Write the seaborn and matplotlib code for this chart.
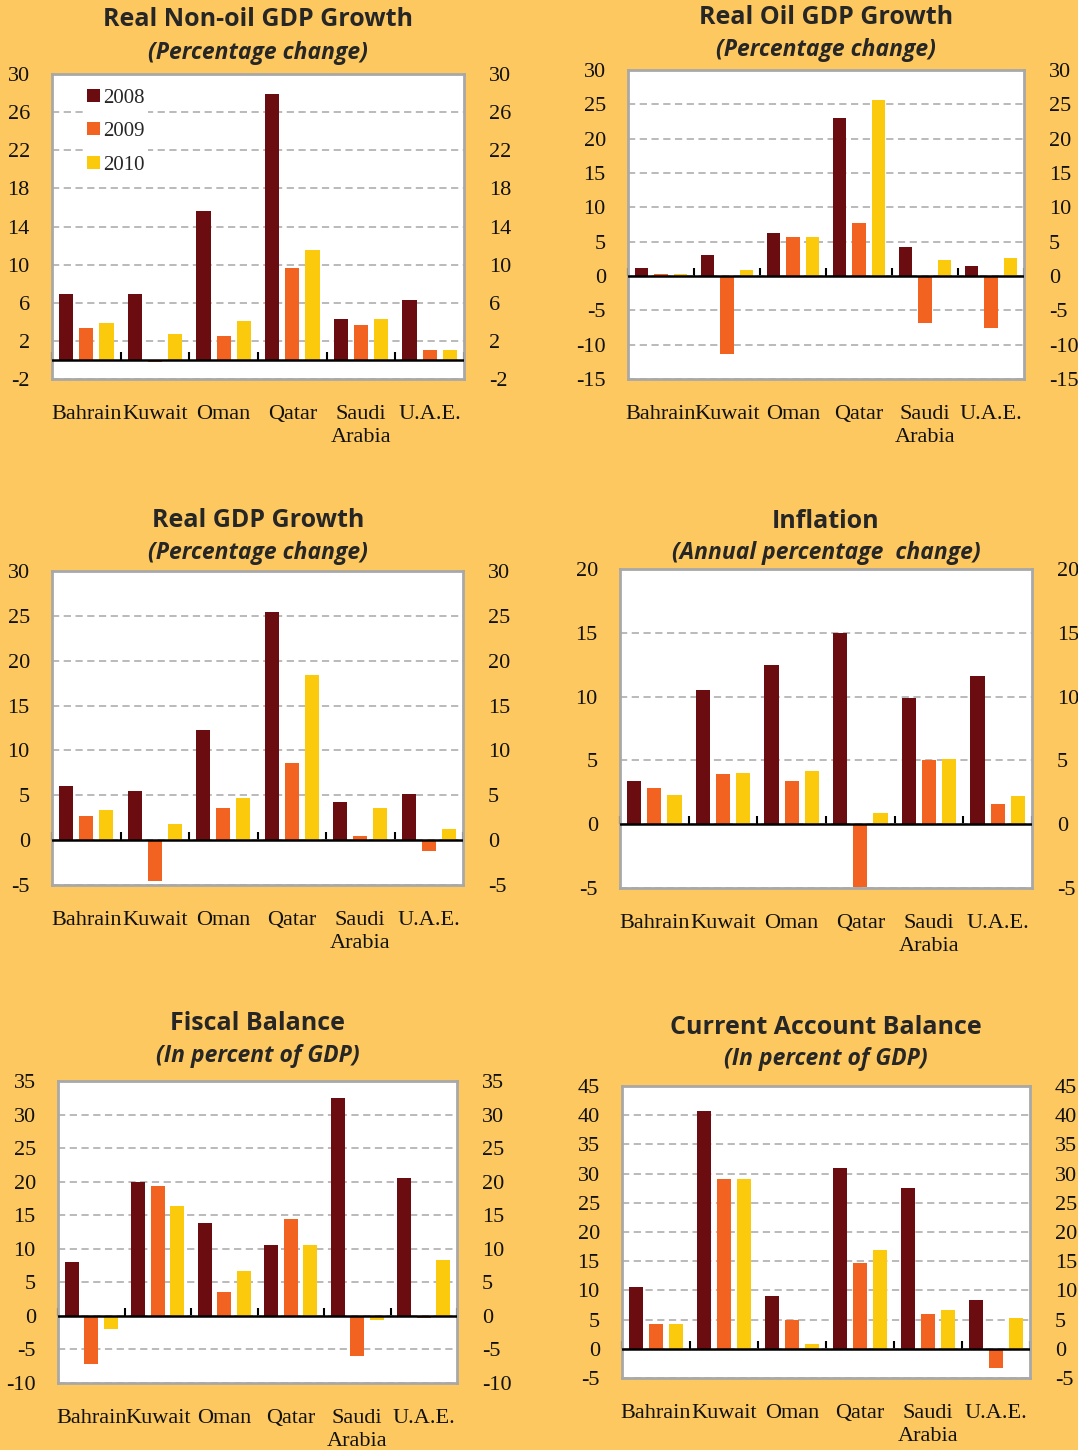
import matplotlib
matplotlib.use("Agg")
import matplotlib.pyplot as plt
import seaborn as sns
import pandas as pd

# data
countries = ["Bahrain", "Kuwait", "Oman", "Qatar", "Saudi\nArabia", "U.A.E."]
years = ["2008", "2009", "2010"]

nonoil_2008 = [6.9, 6.9, 15.6, 27.9, 4.3, 6.3]
nonoil_2009 = [3.3, -0.2, 2.5, 9.6, 3.7, 1.0]
nonoil_2010 = [3.9, 2.7, 4.1, 11.5, 4.3, 1.0]

oil_2008 = [1.2, 3.1, 6.2, 23.0, 4.2, 1.4]
oil_2009 = [0.3, -11.3, 5.7, 7.7, -6.8, -7.6]
oil_2010 = [0.3, 0.9, 5.7, 25.6, 2.3, 2.6]

gdp_2008 = [6.0, 5.5, 12.3, 25.4, 4.2, 5.1]
gdp_2009 = [2.7, -4.6, 3.6, 8.6, 0.5, -1.2]
gdp_2010 = [3.4, 1.8, 4.7, 18.4, 3.6, 1.2]

infl_2008 = [3.4, 10.5, 12.5, 15.0, 9.9, 11.6]
infl_2009 = [2.8, 3.9, 3.4, -4.9, 5.0, 1.6]
infl_2010 = [2.3, 4.0, 4.2, 0.9, 5.1, 2.2]

fiscal_2008 = [8.1, 20.0, 13.9, 10.5, 32.5, 20.6]
fiscal_2009 = [-7.2, 19.4, 3.5, 14.5, -6.0, -0.3]
fiscal_2010 = [-2.0, 16.3, 6.7, 10.5, -0.6, 8.4]

ca_2008 = [10.6, 40.7, 9.0, 31.0, 27.6, 8.3]
ca_2009 = [4.3, 29.0, 5.0, 14.7, 5.9, -3.3]
ca_2010 = [4.3, 29.0, 0.9, 16.9, 6.7, 5.3]

bg = "#FDC85F"
palette = ["#6B0C10", "#F26322", "#FCCA0C"]
title_font = ["Open Sans", "DejaVu Sans"]

sns.set_theme(style="white")
plt.rcParams["font.family"] = ["Liberation Serif", "DejaVu Serif"]

fig = plt.figure(figsize=(10.78, 14.5), dpi=100, facecolor=bg)
W, H = 1078, 1450

panels = [
    ("Real Non-oil GDP Growth", "(Percentage change)",
     [nonoil_2008, nonoil_2009, nonoil_2010], (-2, 30), 4,
     (52, 74, 464, 379), (258, 20, 53)),
    ("Real Oil GDP Growth", "(Percentage change)",
     [oil_2008, oil_2009, oil_2010], (-15, 30), 5,
     (628, 70, 1024, 379), (826, 18, 50)),
    ("Real GDP Growth", "(Percentage change)",
     [gdp_2008, gdp_2009, gdp_2010], (-5, 30), 5,
     (52, 571, 463, 885), (258, 520, 553)),
    ("Inflation", "(Annual percentage  change)",
     [infl_2008, infl_2009, infl_2010], (-5, 20), 5,
     (620, 569, 1032, 888), (826, 521, 553)),
    ("Fiscal Balance", "(In percent of GDP)",
     [fiscal_2008, fiscal_2009, fiscal_2010], (-10, 35), 5,
     (58, 1081, 457, 1383), (258, 1024, 1056)),
    ("Current Account Balance", "(In percent of GDP)",
     [ca_2008, ca_2009, ca_2010], (-5, 45), 5,
     (622, 1086, 1030, 1378), (826, 1027, 1059)),
]

for k, (title, sub, series, ylim, step, box, tpos) in enumerate(panels):
    l, t, r, b = box
    ax = fig.add_axes([l / W, 1 - b / H, (r - l) / W, (b - t) / H])
    ax.set_facecolor("white")

    df = pd.DataFrame({
        "country": countries * 3,
        "year": [y for y in years for _ in countries],
        "value": series[0] + series[1] + series[2],
    })
    sns.barplot(data=df, x="country", y="value", hue="year", palette=palette,
                width=0.88, gap=0.3, saturation=1, ax=ax, legend=(k == 0),
                edgecolor="none", linewidth=0)

    ax.set_ylim(*ylim)
    ax.set_xlim(-0.5, len(countries) - 0.5)
    ticks = list(range(ylim[0], ylim[1] + 1, step))
    ax.set_yticks(ticks)
    ax.set_yticklabels([str(v) for v in ticks])
    ax.set_xlabel("")
    ax.set_ylabel("")

    ax.set_axisbelow(True)
    ax.yaxis.grid(True, color="#B4B4B4", linestyle=(0, (4, 2.5)), linewidth=1.3)
    ax.xaxis.grid(False)
    for sp in ax.spines.values():
        sp.set_visible(True)
        sp.set_color("#A8A8A8")
        sp.set_linewidth(2)

    ax.tick_params(axis="y", length=0, pad=16, labelsize=16, labelcolor="#111111", left=False)
    ax.tick_params(axis="x", length=0, pad=19, labelsize=16, labelcolor="#111111")
    for lab in ax.get_xticklabels():
        lab.set_linespacing(1.27)

    # right-hand copy of the value axis
    ax2 = ax.twinx()
    ax2.set_ylim(*ylim)
    ax2.set_yticks(ticks)
    ax2.set_yticklabels([str(v) for v in ticks])
    ax2.tick_params(axis="y", length=0, pad=18, labelsize=16, labelcolor="#111111", right=False)
    ax2.grid(False)
    for sp in ax2.spines.values():
        sp.set_visible(False)

    # zero line with group separators
    ax.axhline(0, color="black", linewidth=1.8, zorder=3)
    zero_frac = (0 - ylim[0]) / (ylim[1] - ylim[0])
    sec = ax.secondary_xaxis(zero_frac)
    sec.set_xticks([i - 0.5 for i in range(len(countries) + 1)])
    sec.tick_params(direction="in", length=6, width=1.5, color="black", labelbottom=False)
    sec.spines["bottom"].set_visible(False)

    if k == 0:
        leg = ax.legend(loc="upper left", bbox_to_anchor=(0.05, 1.0), frameon=True,
                        fontsize=15, handlelength=0.6, handleheight=0.6,
                        handletextpad=0.15, labelspacing=0.7, borderpad=0.2)
        leg.get_frame().set_facecolor("white")
        leg.get_frame().set_edgecolor("none")
        leg.get_frame().set_alpha(1)

    cx, ty, sy = tpos
    fig.text(cx / W, 1 - ty / H, title, ha="center", va="center",
             fontsize=18, fontweight="bold", family=title_font)
    fig.text(cx / W, 1 - sy / H, sub, ha="center", va="center",
             fontsize=16.5, fontweight="bold", fontstyle="italic", family=title_font)

fig.savefig("out.png", dpi=100, facecolor=bg)
